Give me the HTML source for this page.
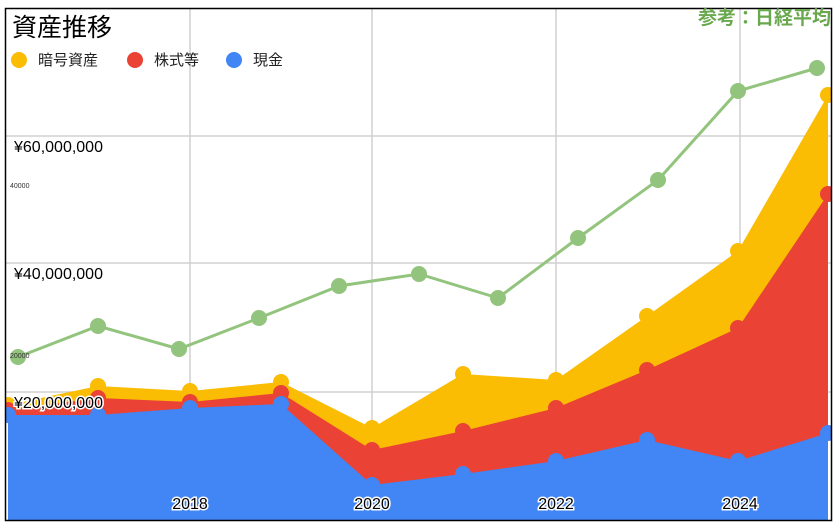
<!DOCTYPE html>
<html><head><meta charset="utf-8"><style>
body{margin:0;background:#fff;width:840px;height:527px;overflow:hidden}
text{font-family:"Liberation Sans","Noto Sans CJK JP",sans-serif}
</style></head><body>
<svg width="840" height="527" viewBox="0 0 840 527" xmlns="http://www.w3.org/2000/svg">
<defs><clipPath id="c"><rect x="6" y="9" width="825" height="511"/></clipPath></defs>
<rect x="0" y="0" width="840" height="527" fill="#fff"/>
<g clip-path="url(#c)">
<g stroke="#d0d0d0" stroke-width="1.5">
<line x1="6" y1="136" x2="831" y2="136"/><line x1="6" y1="263" x2="831" y2="263"/><line x1="6" y1="392" x2="831" y2="392"/>
<line x1="190" y1="9" x2="190" y2="520"/><line x1="372" y1="9" x2="372" y2="520"/><line x1="556" y1="9" x2="556" y2="520"/><line x1="740" y1="9" x2="740" y2="520"/>
</g>
<polygon fill="#fbbc04" points="8,405 98,386 190,391 281,382 372,428 463,374 556,380 647,316 738,251 828,95 828,520 8,520"/>
<polygon fill="#ea4335" points="8,410 98,398 190,402 281,393 372,450 463,431 556,408 647,370 738,328 828,194 828,520 8,520"/>
<polygon fill="#4285f4" points="8,415 98,415 190,408 281,404 372,485 463,474 556,461 647,440 738,461 828,433 828,520 8,520"/>
<g fill="#fbbc04"><circle cx="8" cy="405" r="8"/><circle cx="98" cy="386" r="8"/><circle cx="190" cy="391" r="8"/><circle cx="281" cy="382" r="8"/><circle cx="372" cy="428" r="8"/><circle cx="463" cy="374" r="8"/><circle cx="556" cy="380" r="8"/><circle cx="647" cy="316" r="8"/><circle cx="738" cy="251" r="8"/><circle cx="828" cy="95" r="8"/></g>
<g fill="#ea4335"><circle cx="8" cy="410" r="8"/><circle cx="98" cy="398" r="8"/><circle cx="190" cy="402" r="8"/><circle cx="281" cy="393" r="8"/><circle cx="372" cy="450" r="8"/><circle cx="463" cy="431" r="8"/><circle cx="556" cy="408" r="8"/><circle cx="647" cy="370" r="8"/><circle cx="738" cy="328" r="8"/><circle cx="828" cy="194" r="8"/></g>
<g fill="#4285f4"><circle cx="8" cy="415" r="8"/><circle cx="98" cy="415" r="8"/><circle cx="190" cy="408" r="8"/><circle cx="281" cy="404" r="8"/><circle cx="372" cy="485" r="8"/><circle cx="463" cy="474" r="8"/><circle cx="556" cy="461" r="8"/><circle cx="647" cy="440" r="8"/><circle cx="738" cy="461" r="8"/><circle cx="828" cy="433" r="8"/></g>
<polyline fill="none" stroke="#93c47d" stroke-width="3" points="18,357 98,326 179,349 259,318 339,286 419,274 498,298 578,238 658,180 738,91 817,68"/>
<g fill="#93c47d"><circle cx="18" cy="357" r="8"/><circle cx="98" cy="326" r="8"/><circle cx="179" cy="349" r="8"/><circle cx="259" cy="318" r="8"/><circle cx="339" cy="286" r="8"/><circle cx="419" cy="274" r="8"/><circle cx="498" cy="298" r="8"/><circle cx="578" cy="238" r="8"/><circle cx="658" cy="180" r="8"/><circle cx="738" cy="91" r="8"/><circle cx="817" cy="68" r="8"/></g>
</g>
<rect x="5.5" y="8.5" width="826" height="512" fill="none" stroke="#000" stroke-width="1.5"/>
<text x="12" y="36" font-size="25" fill="#000">資産推移</text>
<circle cx="19" cy="60" r="8" fill="#fbbc04"/><text x="38" y="65" font-size="15" fill="#222">暗号資産</text>
<circle cx="135" cy="60" r="8" fill="#ea4335"/><text x="154" y="65" font-size="15" fill="#222">株式等</text>
<circle cx="234" cy="60" r="8" fill="#4285f4"/><text x="253" y="65" font-size="15" fill="#222">現金</text>
<text x="831" y="24" font-size="19" font-weight="bold" fill="#6aa84f" text-anchor="end">参考：日経平均</text>
<g font-size="16" fill="#000" stroke="#fff" stroke-width="3" paint-order="stroke">
<text x="14" y="152">¥60,000,000</text>
<text x="14" y="279">¥40,000,000</text>
<text x="14" y="408">¥20,000,000</text>
<text x="190" y="509" text-anchor="middle">2018</text>
<text x="372" y="509" text-anchor="middle">2020</text>
<text x="556" y="509" text-anchor="middle">2022</text>
<text x="740" y="509" text-anchor="middle">2024</text>
</g>
<text x="10" y="188" font-size="7" fill="#333">40000</text>
<text x="10" y="358" font-size="7" fill="#333">20000</text>
</svg>
</body></html>
